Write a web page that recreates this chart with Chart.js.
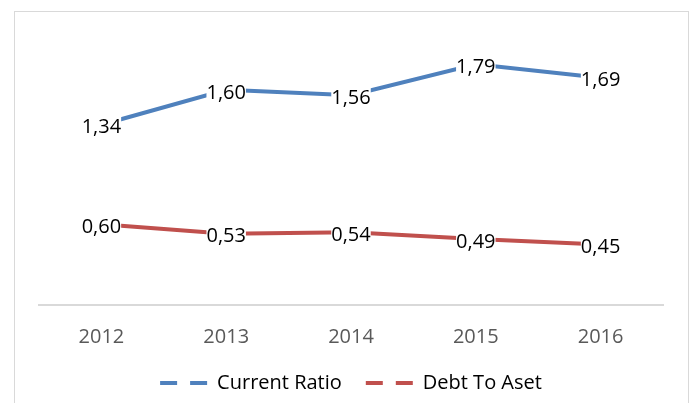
<!DOCTYPE html>
<html>
<head>
<meta charset="utf-8">
<script src="https://cdn.jsdelivr.net/npm/chart.js@4"></script>
<style>
  body { margin: 0; background: #fff; overflow: hidden; }
  #frame {
    position: absolute; left: 14px; top: 11px; width: 675px; height: 430px;
    border: 1px solid #d9d9d9; box-sizing: border-box;
  }
  #wrap { position: absolute; left: 0; top: 0; width: 691px; height: 403px; }
</style>
</head>
<body>
<div id="frame"></div>
<div id="wrap"><canvas id="chart" width="691" height="403"></canvas></div>
<script>
const years = ["2012", "2013", "2014", "2015", "2016"];
const currentRatio = [1.34, 1.60, 1.56, 1.79, 1.69];
const debtToAset = [0.60, 0.53, 0.54, 0.49, 0.45];
const yMin = 0;
const yMax = 2;

const fontFamily = "'Open Sans', sans-serif";

function fmt(v) {
  return v.toFixed(2).replace(".", ",");
}

// labels centred on each point, with a white box that hides the line under them
const pointLabels = {
  id: "pointLabels",
  afterDatasetsDraw(chart) {
    const ctx = chart.ctx;
    ctx.save();
    ctx.font = "20px " + fontFamily;
    ctx.textAlign = "center";
    ctx.textBaseline = "middle";
    chart.data.datasets.forEach((ds, i) => {
      const meta = chart.getDatasetMeta(i);
      meta.data.forEach((pt, j) => {
        const text = fmt(ds.data[j]);
        const w = ctx.measureText(text).width;
        const y = pt.y + 3;
        ctx.fillStyle = "#fff";
        ctx.fillRect(pt.x - w / 2, y - 11, w, 22);
        ctx.fillStyle = "#000";
        ctx.fillText(text, pt.x, y);
      });
    });
    ctx.restore();
  },
};

new Chart(document.getElementById("chart"), {
  type: "line",
  data: {
    labels: years,
    datasets: [
      {
        label: "Current Ratio",
        data: currentRatio,
        borderColor: "#4F81BD",
        backgroundColor: "#4F81BD",
        borderWidth: 4,
        pointRadius: 0,
        tension: 0,
      },
      {
        label: "Debt To Aset",
        data: debtToAset,
        borderColor: "#C0504D",
        backgroundColor: "#C0504D",
        borderWidth: 4,
        pointRadius: 0,
        tension: 0,
      },
    ],
  },
  options: {
    responsive: false,
    animation: false,
    layout: {
      padding: { left: 39, right: 28, top: 36, bottom: 0 },
    },
    scales: {
      x: {
        offset: true,
        grid: { display: false, drawTicks: false },
        border: { color: "#d9d9d9", width: 2 },
        ticks: {
          color: "#595959",
          padding: 20,
          font: { family: fontFamily, size: 20 },
        },
        afterFit(scale) {
          scale.height -= 20;
        },
      },
      y: {
        display: false,
        min: yMin,
        max: yMax,
      },
    },
    plugins: {
      legend: {
        position: "bottom",
        labels: {
          usePointStyle: true,
          pointStyleWidth: 47,
          padding: 24,
          color: "#000",
          font: { family: fontFamily, size: 20 },
          generateLabels(chart) {
            return chart.data.datasets.map((ds, i) => ({
              text: ds.label,
              fillStyle: ds.borderColor,
              strokeStyle: ds.borderColor,
              lineWidth: 4,
              lineDash: [17, 13],
              pointStyle: "line",
              fontColor: "#000",
              hidden: false,
              datasetIndex: i,
            }));
          },
        },
      },
      tooltip: { enabled: false },
    },
  },
  plugins: [pointLabels],
});
</script>
</body>
</html>
